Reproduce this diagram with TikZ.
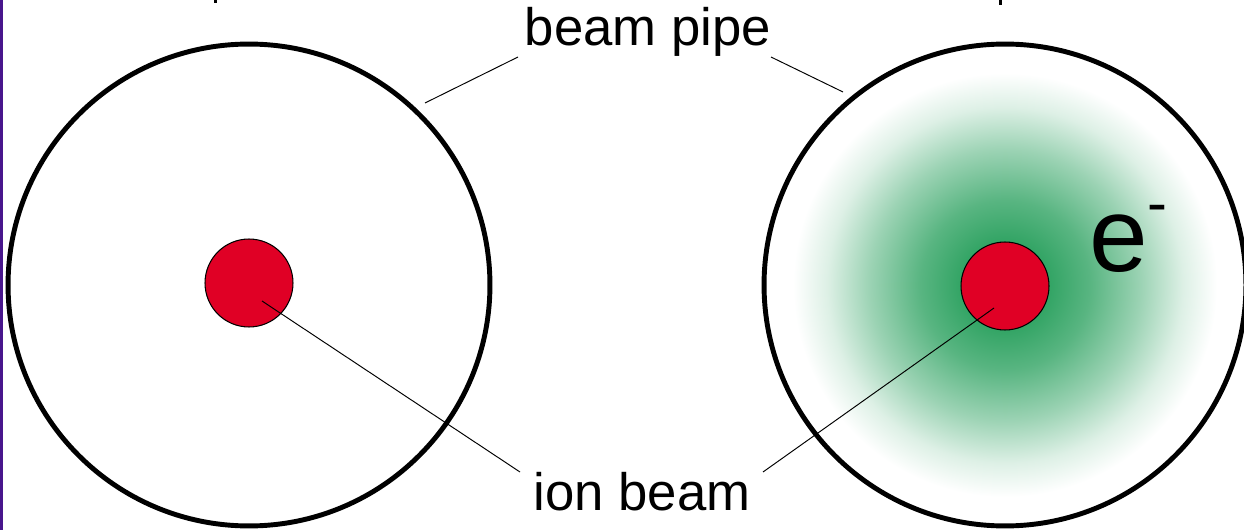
\documentclass[tikz,border=0pt]{standalone}
\usepackage{fontspec}
\setmainfont{Liberation Sans}
\definecolor{glowc}{RGB}{30,155,85}
\definecolor{ionred}{RGB}{224,0,37}
\definecolor{barpurple}{RGB}{72,22,140}
\pgfdeclareradialshading{eglow}{\pgfpoint{0bp}{0bp}}{color(0bp)=(glowc); color(4bp)=(glowc!95!white); color(10bp)=(glowc!74!white); color(16bp)=(glowc!44!white); color(21bp)=(glowc!15!white); color(25bp)=(white); color(50bp)=(white)}
\begin{document}
\begin{tikzpicture}[x=0.02cm,y=-0.02cm,
  pipe/.style={circle,draw=black,line width=2.8pt,minimum size=9.64cm,inner sep=0pt},
  ion/.style={circle,draw=black,fill=ionred,line width=0.6pt,minimum size=1.76cm,inner sep=0pt},
  lead/.style={draw=black,line width=0.55pt},
  lbl/.style={font=\fontsize{30}{36}\selectfont,inner sep=0pt}]
\useasboundingbox (0,0) rectangle (1244,530);
% left purple bar
\fill[barpurple] (0,0) rectangle (3,530);
% cropped fragments at top
\fill[black] (214,0) rectangle (217,3);
\fill[black] (999,0) rectangle (1002,5);
% electron cloud
\shade[shading=eglow] (1005,285) circle (212);
% beam pipes
\node[pipe] (pipeL) at (249,285) {};
\node[pipe] (pipeR) at (1005,285) {};
% ion beams
\node[ion] (ionL) at (249,283) {};
\node[ion] (ionR) at (1005,286) {};
% labels
\node[lbl,anchor=base] (bp) at (648,46) {beam pipe};
\node[lbl,anchor=base] (ib) at (642,510) {ion beam};
\node[font=\fontsize{60}{70}\selectfont,inner sep=0pt,anchor=base west] (el) at (1089,272) {e\raisebox{27.8pt}{\fontsize{34}{40}\selectfont -}};
% leader line ends
\coordinate (bpLa) at (425,103);
\coordinate (bpLb) at (518,57);
\coordinate (bpRa) at (843,92);
\coordinate (bpRb) at (771,57);
\coordinate (ibLa) at (262,301);
\coordinate (ibLb) at (520,472);
\coordinate (ibRa) at (994,308);
\coordinate (ibRb) at (763,472);
\draw[lead] (bpLa) -- (bpLb);
\draw[lead] (bpRa) -- (bpRb);
\draw[lead] (ibLa) -- (ibLb);
\draw[lead] (ibRa) -- (ibRb);
\end{tikzpicture}
\end{document}
